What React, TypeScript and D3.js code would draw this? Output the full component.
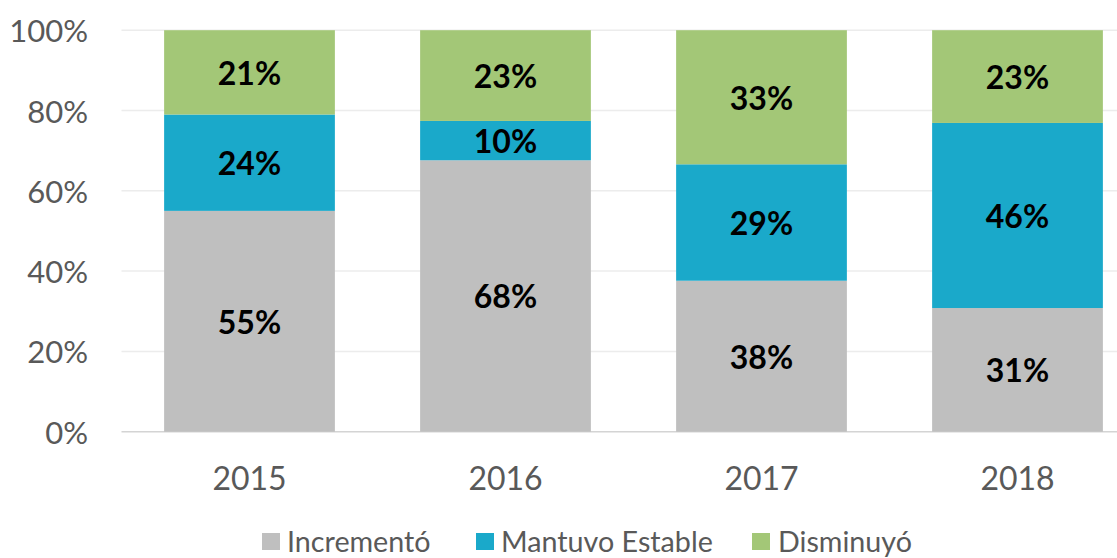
import React from "react";
import * as d3 from "d3";

const years = ["2015", "2016", "2017", "2018"];
const incremento = [55, 67.6, 37.6, 30.8];
const mantuvo = [24, 9.8, 29.0, 46.1];
const disminuyo = [21, 22.6, 33.4, 23.1];
const seriesNames = ["Incrementó", "Mantuvo Estable", "Disminuyó"];
const seriesColors = ["#BFBFBF", "#1AA9CA", "#A3C777"];
const yTicks = [0, 20, 40, 60, 80, 100];

const W = 1117;
const H = 558;

export default function App() {
  const x = d3.scaleBand<string>().domain(years).range([121.5, 1145.5]).paddingInner(0.333).paddingOuter(0.1665);
  const y = d3.scaleLinear().domain([0, 100]).range([431.7, 30.2]);

  const rows = years.map((yr, i) => ({ year: yr, s0: incremento[i], s1: mantuvo[i], s2: disminuyo[i] }));
  const stacked = d3.stack<any>().keys(["s0", "s1", "s2"])(rows);

  const font = "'Gill Sans', 'Gill Sans MT', Lato, sans-serif";
  const legendItems = [
    { sq: 262, tx: 287 },
    { sq: 476, tx: 501 },
    { sq: 752, tx: 778 },
  ];

  return (
    <svg width={W} height={H} style={{ position: "absolute", left: 0, top: 0, background: "#fff" }} fontFamily={font}>
      {yTicks.map((t) => (
        <line key={"g" + t} x1={121.5} x2={W} y1={y(t)} y2={y(t)} stroke={t === 0 ? "#d4d4d4" : "#ececec"} strokeWidth={1.5} />
      ))}
      {stacked.map((layer, si) =>
        layer.map((d, i) => {
          const val = d[1] - d[0];
          const x0 = x(years[i])!;
          return (
            <g key={si + "-" + i}>
              <rect x={x0} y={y(d[1])} width={x.bandwidth()} height={y(d[0]) - y(d[1])} fill={seriesColors[si]} />
              <text
                x={x0 + x.bandwidth() / 2}
                y={(y(d[0]) + y(d[1])) / 2}
                textAnchor="middle"
                dominantBaseline="central"
                fontSize={32}
                fontWeight="bold"
                fill="#000"
              >
                {Math.round(val) + "%"}
              </text>
            </g>
          );
        })
      )}
      {yTicks.map((t) => (
        <text key={"t" + t} x={88} y={y(t)} textAnchor="end" dominantBaseline="central" fontSize={31} fill="#595959">
          {t + "%"}
        </text>
      ))}
      {years.map((yr) => (
        <text key={"x" + yr} x={x(yr)! + x.bandwidth() / 2} y={477} textAnchor="middle" dominantBaseline="central" fontSize={32} fill="#595959">
          {yr}
        </text>
      ))}
      {seriesNames.map((n, i) => (
        <g key={"l" + i}>
          <rect x={legendItems[i].sq} y={533} width={18} height={17} fill={seriesColors[i]} />
          <text x={legendItems[i].tx} y={540.5} dominantBaseline="central" fontSize={28.7} fill="#595959">
            {n}
          </text>
        </g>
      ))}
    </svg>
  );
}
